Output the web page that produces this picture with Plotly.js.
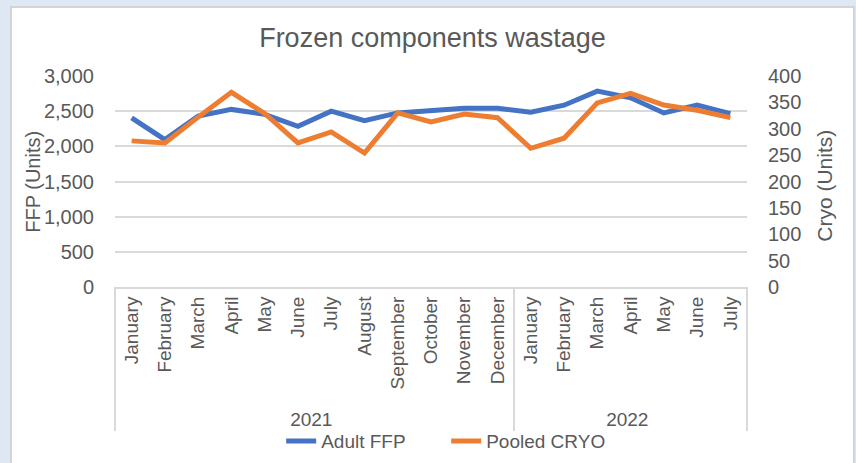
<!DOCTYPE html>
<html>
<head>
<meta charset="utf-8">
<script src="https://cdn.plot.ly/plotly-3.0.1.min.js"></script>
<style>
  html, body { margin: 0; padding: 0; background: #dee8f4; width: 856px; height: 463px; overflow: hidden; }
  #card { position: absolute; left: 10px; top: 6px; width: 841px; height: 457px;
          background: #ffffff; border-left: 2px solid #d4d4d4; border-top: 2px solid #d4d4d4; border-right: 2px solid #d4d4d4; }
  #chart { width: 841px; height: 455px; }
</style>
</head>
<body>
<div id="card"><div id="chart"></div></div>
<script>
const years = ["2021","2021","2021","2021","2021","2021","2021","2021","2021","2021","2021","2021",
               "2022","2022","2022","2022","2022","2022","2022"];
const months = ["January","February","March","April","May","June","July","August","September","October","November","December",
                "January","February","March","April","May","June","July"];
const adultFFP = [2405, 2095, 2430, 2525, 2455, 2285, 2500, 2365, 2475, 2500, 2540, 2540,
                  2485, 2585, 2785, 2690, 2475, 2585, 2465];
const pooledCRYO = [277, 273, 322, 369, 329, 273, 294, 254, 330, 313, 328, 321,
                    263, 282, 349, 367, 345, 335, 321];

const textColor = "#595959";
const gridColor = "#d9d9d9";
const fontFam = "'Liberation Sans', Arial, sans-serif";

const traces = [
  { x: [years, months], y: adultFFP, name: "Adult FFP", type: "scatter", mode: "lines",
    line: { color: "#4472c4", width: 5 }, yaxis: "y" },
  { x: [years, months], y: pooledCRYO, name: "Pooled CRYO", type: "scatter", mode: "lines",
    line: { color: "#ed7d31", width: 5 }, yaxis: "y2" }
];

const layout = {
  width: 841, height: 455,
  paper_bgcolor: "#ffffff", plot_bgcolor: "#ffffff",
  margin: { l: 103, r: 106, t: 68, b: 176, autoexpand: false },
  font: { family: fontFam, color: textColor, size: 19 },
  title: { text: "Frozen components wastage", x: 0.5, xref: "container", xanchor: "center",
           y: 0.936, yref: "container", yanchor: "middle",
           font: { family: fontFam, size: 27, color: textColor } },
  xaxis: {
    type: "multicategory", automargin: false, range: [-0.5, months.length - 0.5],
    tickangle: -90, tickfont: { family: fontFam, size: 19, color: textColor },
    showline: true, linecolor: gridColor, linewidth: 2,
    showdividers: true, dividercolor: gridColor, dividerwidth: 2,
    showgrid: false, ticks: ""
  },
  yaxis: {
    range: [0, 3000], dtick: 500, tickformat: ",", automargin: false,
    showgrid: true, gridcolor: gridColor, gridwidth: 2, zeroline: false,
    showline: false, ticks: "", ticklabelstandoff: 20,
    tickfont: { family: fontFam, size: 20, color: textColor }
  },
  yaxis2: {
    range: [0, 400], dtick: 50, overlaying: "y", side: "right", automargin: false,
    showgrid: false, zeroline: false, showline: false, ticks: "", ticklabelstandoff: 20,
    tickfont: { family: fontFam, size: 20, color: textColor }
  },
  legend: { orientation: "h", x: 0.524, xanchor: "center", y: -0.73, yanchor: "middle",
            entrywidth: 120, entrywidthmode: "pixels", itemwidth: 30,
            font: { family: fontFam, size: 19, color: textColor }, bgcolor: "rgba(0,0,0,0)" },
  shapes: [
    { type: "line", xref: "paper", yref: "paper", x0: 0, x1: 0, y0: 0, y1: -0.68,
      line: { color: gridColor, width: 2 } },
    { type: "line", xref: "paper", yref: "paper", x0: 1, x1: 1, y0: 0, y1: -0.68,
      line: { color: gridColor, width: 2 } }
  ],
  annotations: [
    { text: "FFP (Units)", textangle: -90, xref: "paper", yref: "paper", x: -0.131, y: 0.5,
      xanchor: "center", yanchor: "middle", showarrow: false,
      font: { family: fontFam, size: 20, color: textColor } },
    { text: "Cryo (Units)", textangle: -90, xref: "paper", yref: "paper", x: 1.1234, y: 0.48,
      xanchor: "center", yanchor: "middle", showarrow: false,
      font: { family: fontFam, size: 21, color: textColor } }
  ],
  showlegend: true
};

Plotly.newPlot("chart", traces, layout, { staticPlot: true, displayModeBar: false });
</script>
</body>
</html>
